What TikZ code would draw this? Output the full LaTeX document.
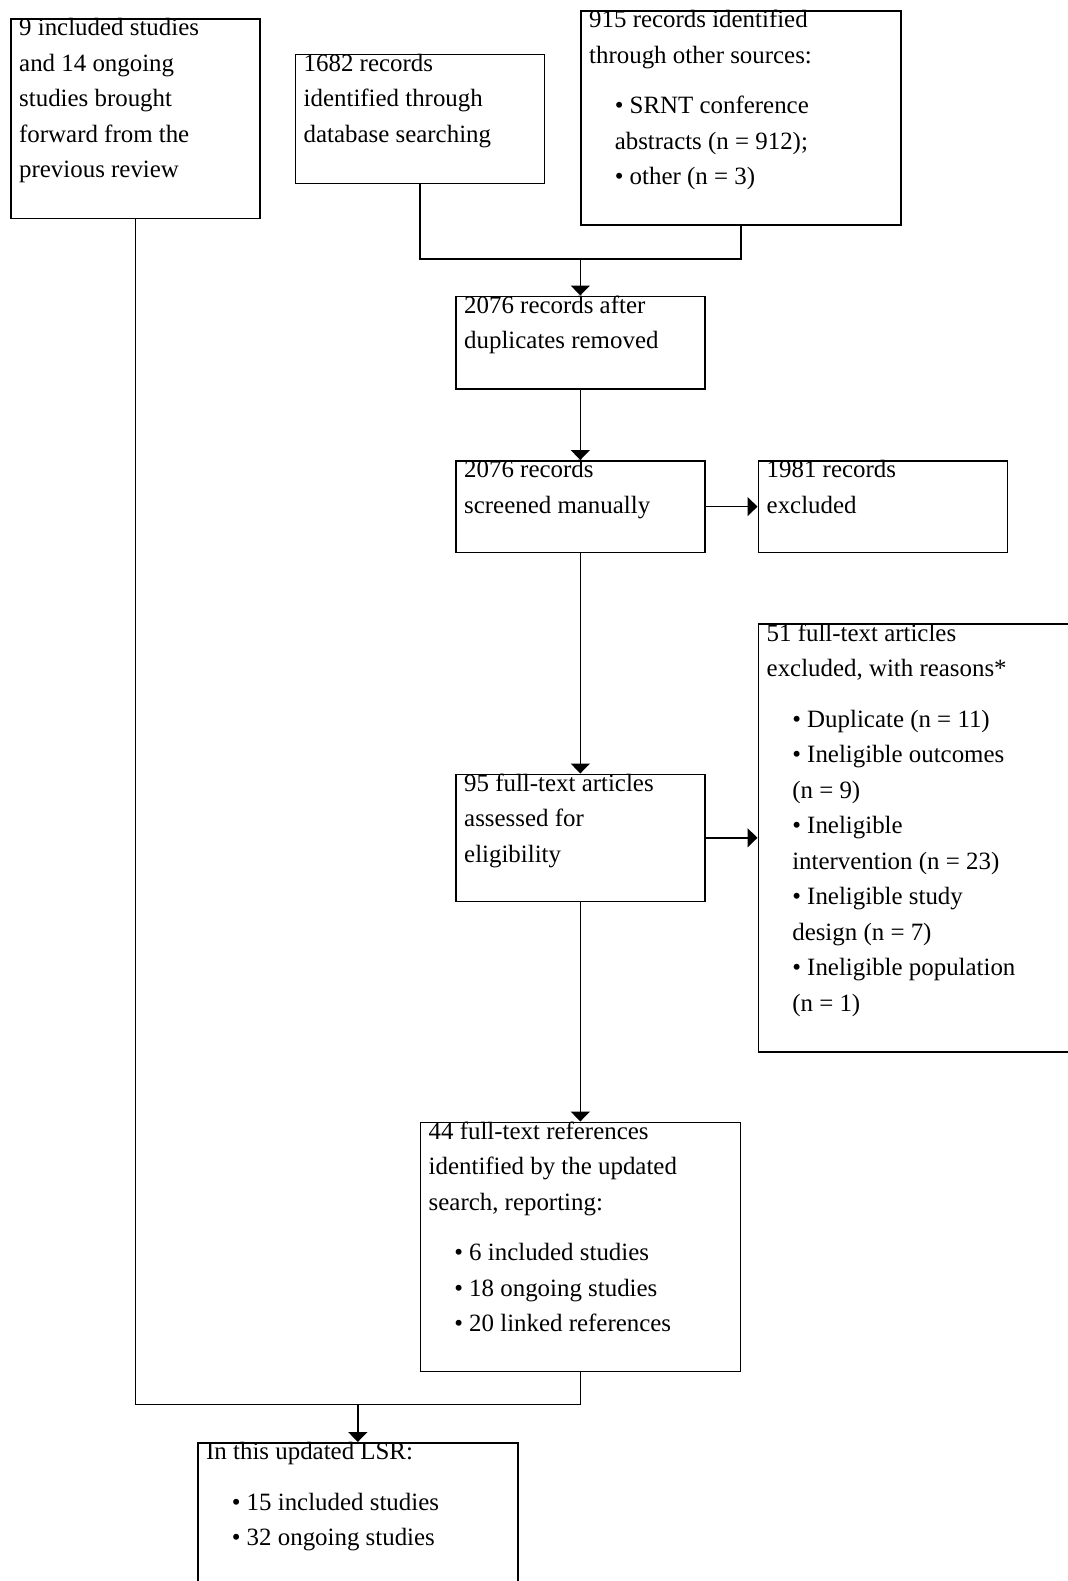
\documentclass[tikz,border=0pt]{standalone}
\usepackage{fontspec}
\setmainfont{Liberation Serif}
\usetikzlibrary{arrows.meta, positioning}

\newcommand{\bul}{\hspace*{12.8pt}\textbullet\ }
\newcommand{\ind}{\hspace*{12.8pt}}

\begin{document}
\begin{tikzpicture}[x=0.5pt, y=-0.5pt, >={Triangle[length=5pt,width=9.5pt]},
    box/.style={rectangle, draw, line width=0.8pt, anchor=north west, inner sep=0pt, minimum width=124.5pt},
    widebox/.style={box, minimum width=160pt},
    txt/.style={align=left, inner sep=0pt, font=\fontsize{12.45}{17.75}\selectfont},
    line/.style={line width=0.8pt}]

\useasboundingbox (0,0) rectangle (1068,1581);
\clip (0,0) rectangle (1068,1581);

% boxes
\node[box, minimum height=99.8pt] (prev) at (10,18) {};
\node[box, minimum height=64.5pt] (db) at (294.5,53.5) {};
\node[widebox, minimum height=107pt] (other) at (580,10) {};
\node[box, minimum height=46.4pt] (dedup) at (455,295.5) {};
\node[box, minimum height=45.8pt] (screen) at (455,460) {};
\node[box, minimum height=45.8pt] (excl) at (757.5,460) {};
\node[box, minimum height=63.5pt] (full) at (455,773.5) {};
\node[box, minimum width=170pt, minimum height=213.8pt] (reasons) at (757.5,623.3) {};
\node[widebox, minimum height=124.5pt] (refs) at (419.5,1121.5) {};
\node[widebox, minimum height=100pt] (lsr) at (197,1442) {};

% texts
\node[txt, below right=0pt and 4.4pt of prev.north west] (prevtxt) {9 included studies\\ and 14 ongoing\\ studies brought\\ forward from the\\ previous review};
\node[txt, below right=0pt and 4.4pt of db.north west] (dbtxt) {1682 records\\ identified through\\ database searching};
\node[txt, below right=0pt and 4.4pt of other.north west] (othertxt) {915 records identified\\ through other sources:\\[7.5pt] \bul SRNT conference\\ \ind abstracts (n = 912);\\ \bul other (n = 3)};
\node[txt, below right=0pt and 4.4pt of dedup.north west] (deduptxt) {2076 records after\\ duplicates removed};
\node[txt, below right=0pt and 4.4pt of screen.north west] (screentxt) {2076 records\\ screened manually};
\node[txt, below right=0pt and 4.4pt of excl.north west] (excltxt) {1981 records\\ excluded};
\node[txt, below right=0pt and 4.4pt of full.north west] (fulltxt) {95 full-text articles\\ assessed for\\ eligibility};
\node[txt, below right=0pt and 4.4pt of reasons.north west] (reasonstxt) {51 full-text articles\\ excluded, with reasons*\\[7.5pt] \bul Duplicate (n = 11)\\ \bul Ineligible outcomes\\ \ind (n = 9)\\ \bul Ineligible\\ \ind intervention (n = 23)\\ \bul Ineligible study\\ \ind design (n = 7)\\ \bul Ineligible population\\ \ind (n = 1)};
\node[txt, below right=0pt and 4.4pt of refs.north west] (refstxt) {44 full-text references\\ identified by the updated\\ search, reporting:\\[7.5pt] \bul 6 included studies\\ \bul 18 ongoing studies\\ \bul 20 linked references};
\node[txt, below right=0pt and 4.4pt of lsr.north west] (lsrtxt) {In this updated LSR:\\[7.5pt] \bul 15 included studies\\ \bul 32 ongoing studies};

% connectors
\coordinate[above=18.15pt of dedup.north] (join1);
\draw[line] (db.south) |- (join1) -| (other.south);
\draw[line, ->] (join1) -- (dedup.north);
\draw[line, ->] (dedup) -- (screen);
\draw[line, ->] (screen) -- (excl);
\draw[line, ->] (screen) -- (full);
\draw[line, ->] (full.east) -- (full.east -| reasons.west);
\draw[line, ->] (full) -- (refs);
\coordinate[above=18.7pt of lsr.north] (join2);
\draw[line] (prev.south) |- (join2) -| (refs.south);
\draw[line, ->] (join2) -- (lsr.north);

\end{tikzpicture}
\end{document}
